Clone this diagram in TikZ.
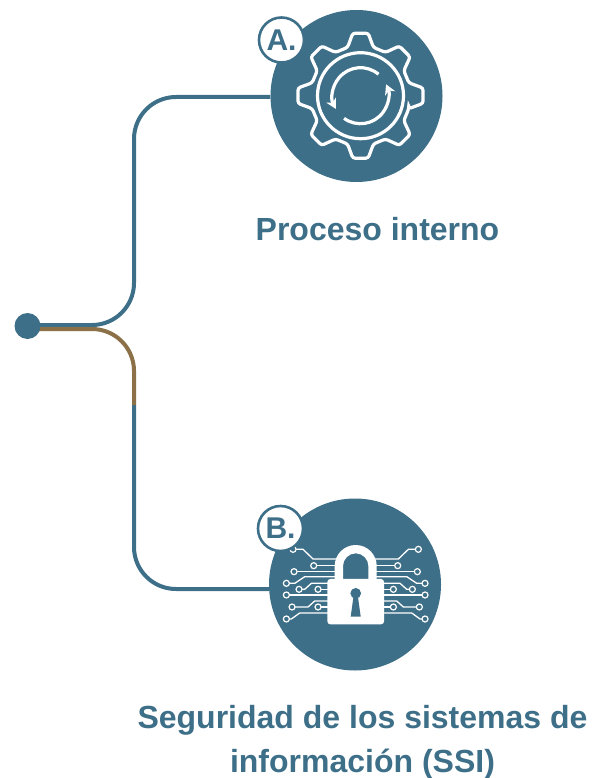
\documentclass[tikz,border=0pt]{standalone}
\usepackage{fontspec}
\setmainfont{Liberation Sans}
\usepackage{xcolor}
\usetikzlibrary{arrows.meta}
\definecolor{tealblue}{HTML}{3E6F88}
\definecolor{brownline}{HTML}{8B7048}
\pgfdeclarelayer{links}
\pgfsetlayers{links,main}

\newcommand{\tracelines}{%
  \foreach \xa/\ya/\xb/\xc/\yb/\xd in {188/163/158/128/192/50,208/265/183/153/245/50,170/283/153/133/265/80,191/336/143/123/318/80,208/372/193/168/354/80}
    \draw[trace] (\xd,\yb) -- (\xc,\yb) -- (\xb,\ya) -- (\xa,\ya) node[pad] {};
  \foreach \xa/\ya/\xd in {126/212/50,185/230/50,113/283/80,208/300/80,113/336/80}
    \draw[trace] (\xd,\ya) -- (\xa,\ya) node[pad] {};
}

\begin{document}
\begin{tikzpicture}[
            x = 1pt,
            y = -1pt,
            > = {Stealth[length=10pt,width=11pt]}, % arrow head style
            bigcircle/.style = {shape=circle,fill=tealblue,minimum size=172pt,inner sep=0pt},
            badge/.style = {shape=circle,draw=tealblue,fill=white,line width=2.6pt,minimum size=45pt,inner sep=0pt,text=tealblue,font=\fontsize{30}{30}\selectfont\bfseries},
            title/.style = {text=tealblue,align=center,font=\fontsize{32}{44}\selectfont\bfseries},
            link/.style = {draw=tealblue,line width=4pt,rounded corners=42pt},
            iconline/.style = {draw=white,line width=3.2pt},
            trace/.style = {draw=white,line width=1.3pt},
            pad/.style = {shape=circle,draw=white,fill=tealblue,line width=1.2pt,minimum size=6pt,inner sep=0pt}
        ]
\useasboundingbox (0,0) rectangle (605,778);

\node[shape=circle,fill=tealblue,minimum size=26pt,inner sep=0pt] (dot) at (27.5,326) {};
\node[bigcircle] (gearDisc) at (356.5,96) {};
\node[bigcircle] (lockDisc) at (355,584.5) {};

\coordinate (forkA) at (134,325);
\coordinate (bendA) at (134,97);
\coordinate (startBrown) at (34,329);
\coordinate (forkB) at (134,329);
\coordinate (joint) at (134,405);
\coordinate (bendB) at (134,589);

% connectors
\begin{pgfonlayer}{links}
\path[link] (dot |- forkA) -- (forkA) -- (bendA) -- (bendA -| gearDisc.west);
\path[link] (joint) -- (bendB) -- (bendB -| lockDisc.west);
\path[link,draw=brownline] (startBrown) -- (forkB) -- (joint);
\end{pgfonlayer}

% gear icon
\begin{scope}[shift={(360.5,95.7)},y=1pt]
\draw[iconline,rounded corners=2.5pt] (-15:50) foreach \a in {0,45,...,315} { -- ({\a-15}:50) -- ({\a-7}:63) -- ({\a+7}:63) -- ({\a+15}:50) } -- cycle;
\draw[iconline] (0,0) circle (43);
\draw[iconline,->] (50:28) arc (50:208:28);
\draw[iconline,->] (234:28) arc (234:384:28);
\end{scope}

% lock icon
\begin{scope}[shift={(355.7,495)},x=0.3333pt,y=-0.3333pt]
\tracelines
\begin{scope}[xscale=-1]
\tracelines
\end{scope}
\fill[white,even odd rule] (-63,270) -- (-63,213) arc (180:360:63) -- (63,270) -- cycle (-38,270) -- (-38,213) arc (180:360:38) -- (38,270) -- cycle;
\fill[white,rounded corners=3pt] (-85,252) rectangle (85,388);
\fill[tealblue] (0,295) circle (16);
\fill[tealblue] (-6,300) -- (6,300) -- (15,365) -- (-15,365) -- cycle;
\end{scope}

\node[badge] (badgeA) at (281.5,40) {A.};
\node[badge] (badgeB) at (280.5,528.5) {B.};

\node[title] (titleA) at (377.5,229) {Proceso interno};
\node[title] (titleB) at (362.5,742.5) {Seguridad de los sistemas de\\información (SSI)};

\end{tikzpicture}
\end{document}
